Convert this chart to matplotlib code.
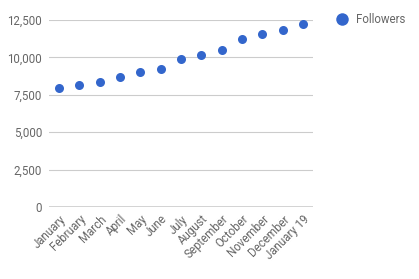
import matplotlib.pyplot as plt
from matplotlib.lines import Line2D

plt.rcParams['font.family'] = ['Roboto', 'DejaVu Sans']

months = ['January', 'February', 'March', 'April', 'May', 'June', 'July',
          'August', 'September', 'October', 'November', 'December', 'January 19']
followers = [7950, 8150, 8380, 8670, 9000, 9250, 9890,
             10180, 10470, 11210, 11540, 11810, 12210]
yticks = [0, 2500, 5000, 7500, 10000, 12500]

fig = plt.figure(figsize=(4.19, 2.79), dpi=100)
ax = fig.add_axes([0.117, 0.258, 0.630, 0.670])

x = range(len(months))
ax.plot(x, followers, 'o', color='#3366cc', markersize=6.5, markeredgewidth=0, zorder=3)

ax.set_xlim(-0.5, len(months) - 0.5)
ax.set_ylim(0, 12500)
ax.set_yticks(yticks)
ax.set_yticklabels([f'{v:,}' for v in yticks])
ax.set_xticks(list(x))
ax.set_xticklabels(months, rotation=45, ha='right', rotation_mode='anchor')

ax.grid(axis='y', color='#cccccc', linewidth=0.8)
ax.axhline(0, color='#333333', linewidth=1.0, zorder=2)
for s in ax.spines.values():
    s.set_visible(False)
ax.tick_params(axis='both', length=0, labelsize=8.3, labelcolor='#666666')
ax.tick_params(axis='x', pad=4)
ax.tick_params(axis='y', pad=5)

handle = Line2D([], [], marker='o', color='#3366cc', linestyle='none',
                markersize=9, markeredgewidth=0)
fig.legend([handle], ['Followers'], loc='upper left', bbox_to_anchor=(0.765, 0.99),
           frameon=False, fontsize=8.3, labelcolor='#666666', handletextpad=0.2)

fig.savefig('out.png', dpi=100)
